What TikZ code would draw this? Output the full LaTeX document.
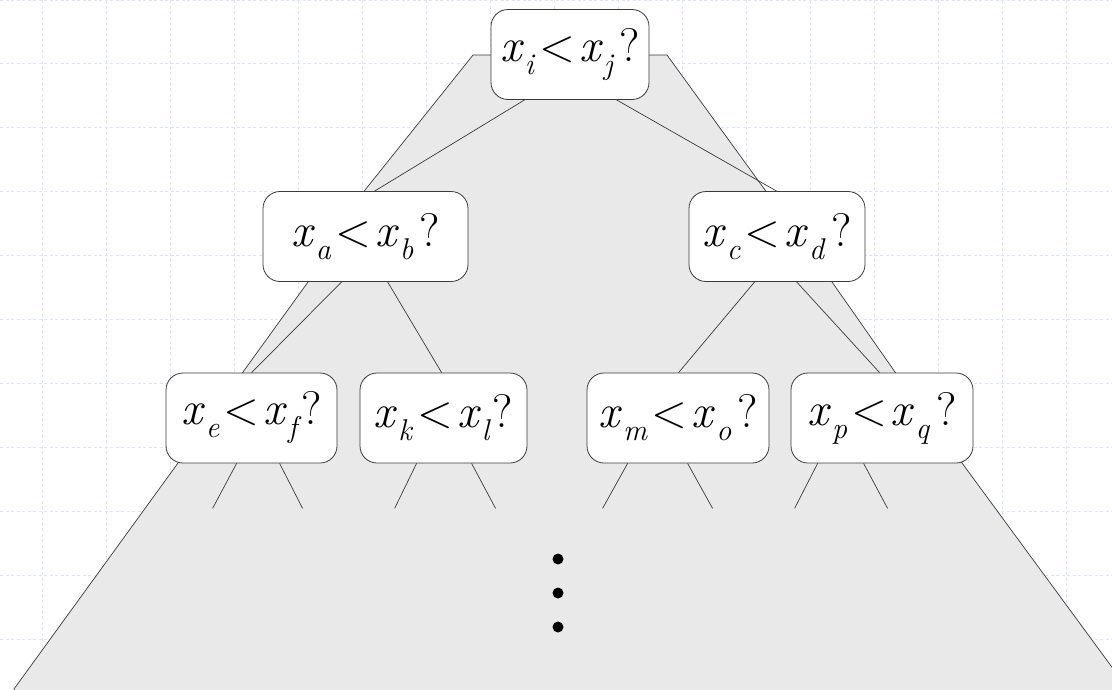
\documentclass[tikz,border=0pt]{standalone}
\usepackage{fontspec}
\definecolor{gridc}{HTML}{DAE3FF}
\definecolor{fillc}{HTML}{E9E9E9}
\definecolor{linec}{HTML}{3A3A3A}
\newcommand\subsz{\fontsize{30}{30}\selectfont}
\newcommand\xsub[1]{\textit{x}\kern1pt\raisebox{-13pt}{\subsz\textit{#1}}}
\newcommand\cmpx[3]{\xsub{#1}\kern4pt<\kern4pt\xsub{#2}\kern#3 ?}
\begin{document}
\begin{tikzpicture}[x=1pt,y=-1pt,
  box/.style={draw=linec,line width=0.8pt,fill=white,rounded corners=17pt,
    minimum height=90pt,inner sep=0pt,font=\fontsize{47}{47}\selectfont},
  outl/.style={draw=linec,line width=0.7pt},
  edge/.style={draw=linec,line width=0.7pt},
  gridl/.style={draw=gridc,line width=0.9pt,dash pattern=on 3pt off 2.5pt}]
\useasboundingbox (0,0) rectangle (1112,689);
% grid
\foreach \i in {0,...,16} {\draw[gridl] (42+64*\i,0) -- (42+64*\i,689);}
\foreach \j in {0,...,9} {\draw[gridl] (0,63+64*\j) -- (1112,63+64*\j);}
\draw[gridl] (0,0.5) -- (1112,0.5);
% gray region
\filldraw[fill=fillc,outl] (14,689) -- (178,463) -- (243,372) -- (308,282) -- (365,190)
  -- (473,55) -- (667,55) -- (765,190) -- (832,282) -- (895,372) -- (962,463)
  -- (1128,689) -- (1128,700) -- (14,700) -- cycle;
% nodes
\node[box,minimum width=158pt] (root) at (570,54.5) {\cmpx{i}{j}{5pt}};
\node[box,minimum width=205pt] (a) at (365.5,236.5) {\cmpx{a}{b}{6pt}};
\node[box,minimum width=176pt] (c) at (777,236.5) {\cmpx{c}{d}{6pt}};
\node[box,minimum width=171pt] (e) at (251.5,418) {\cmpx{e}{f}{0pt}};
\node[box,minimum width=167pt] (k) at (443.5,418) {\cmpx{k}{l}{2pt}};
\node[box,minimum width=182pt] (m) at (678,418) {\cmpx{m}{o}{6pt}};
\node[box,minimum width=182pt] (q) at (882,418) {\cmpx{p}{q}{6pt}};
% tree edges
\draw[edge] ([xshift=34pt]root.south west) -- ([xshift=112pt]a.north west);
\draw[edge] ([xshift=126pt]root.south west) -- ([xshift=88pt]c.north west);
\draw[edge] ([xshift=79pt]a.south west) -- ([xshift=86pt]e.north west);
\draw[edge] ([xshift=125pt]a.south west) -- ([xshift=82pt]k.north west);
\draw[edge] ([xshift=66pt]c.south west) -- ([xshift=92pt]m.north west);
\draw[edge] ([xshift=108pt]c.south west) -- ([xshift=89pt]q.north west);
% leaf stubs
\draw[edge] ([xshift=71pt]e.south west) -- ++(-24,45);
\draw[edge] ([xshift=114pt]e.south west) -- ++(23,45);
\draw[edge] ([xshift=57pt]k.south west) -- ++(-22,45);
\draw[edge] ([xshift=112pt]k.south west) -- ++(24,45);
\draw[edge] ([xshift=41pt]m.south west) -- ++(-25,45);
\draw[edge] ([xshift=101pt]m.south west) -- ++(25,45);
\draw[edge] ([xshift=27pt]q.south west) -- ++(-23,45);
\draw[edge] ([xshift=73pt]q.south west) -- ++(24,45);
% dots
\foreach \y [count=\n] in {559,593,627} {\fill[black] (558,\y) circle (5.5pt) coordinate (dot\n);}
\end{tikzpicture}
\end{document}
